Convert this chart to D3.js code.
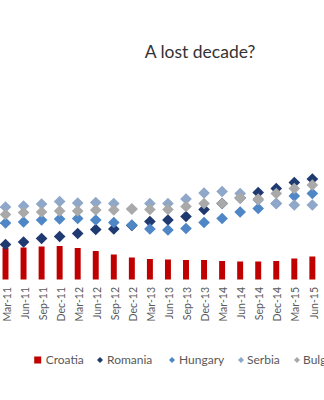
<!DOCTYPE html>
<html>
<head>
<meta charset="utf-8">
<script src="https://cdn.jsdelivr.net/npm/d3@7"></script>
<style>
  html, body { margin: 0; padding: 0; background: #fff; }
  svg { display: block; font-family: Lato, "Open Sans", sans-serif; }
</style>
</head>
<body>
<svg id="chart" width="324" height="400"></svg>
<script>
// Quarterly real GDP index by country
const quarters = ["Mar-11","Jun-11","Sep-11","Dec-11","Mar-12","Jun-12","Sep-12","Dec-12",
                  "Mar-13","Jun-13","Sep-13","Dec-13","Mar-14","Jun-14","Sep-14","Dec-14",
                  "Mar-15","Jun-15","Sep-15"];
// Quarters that carry a printed label
const labelledQuarters = quarters.slice(0, 18);
const croatia  = [91.3, 91.4, 91.6, 91.7, 91.3, 90.7, 90.0, 89.4, 89.1, 89.0, 88.9, 88.9, 88.7, 88.6, 88.6, 88.7, 89.2, 89.6, 89.8];
const romania  = [92.0, 92.5, 93.2, 93.6, 94.2, 95.0, 95.1, 95.8, 96.6, 96.9, 97.6, 99.0, 100.2, 101.3, 102.4, 103.2, 104.4, 105.1, 105.7];
const hungary  = [96.3, 96.5, 96.9, 97.1, 97.2, 96.9, 96.4, 95.9, 95.1, 94.9, 95.2, 96.4, 97.2, 98.5, 99.2, 100.2, 101.7, 102.2, 102.5];
const serbia   = [99.5, 99.7, 100.1, 100.6, 100.3, 100.4, 100.2, 99.1, 100.2, 100.2, 101.1, 102.3, 102.6, 102.2, 100.9, 100.2, 99.9, 99.9, 99.9];
const bulgaria = [98.0, 98.4, 98.5, 98.7, 98.7, 98.9, 98.9, 99.1, 99.0, 99.0, 99.6, 100.2, 100.2, 101.3, 101.1, 102.2, 103.2, 103.9, 103.5];

const colors = {
  Croatia: "#C00000",
  Romania: "#1F3A70",
  Hungary: "#4F86C6",
  Serbia: "#8FA7C8",
  Bulgaria: "#A9A9A9"
};

const svg = d3.select("#chart");
svg.append("rect").attr("width", 324).attr("height", 400).attr("fill", "#fff");

// Category axis: one band per quarter
const step = 18.05;
const x0 = 5.5 - step / 2;
const x = d3.scaleBand()
  .domain(quarters)
  .range([x0, x0 + step * quarters.length])
  .paddingInner(0.67)
  .paddingOuter(0.335);
const xc = q => x(q) + x.bandwidth() / 2;

// Value axis
const y = d3.scaleLinear().domain([85, 105]).range([279.5, 179.5]);

// Title
svg.append("text")
  .attr("x", 200).attr("y", 58.3)
  .attr("text-anchor", "middle")
  .attr("font-size", 17.5)
  .attr("fill", "#333")
  .text("A lost decade?");

// Croatia bars
svg.append("g").selectAll("rect")
  .data(quarters.map((q, i) => ({ q, v: croatia[i] })))
  .join("rect")
  .attr("x", d => x(d.q))
  .attr("width", x.bandwidth())
  .attr("y", d => y(d.v))
  .attr("height", d => y.range()[0] - y(d.v))
  .attr("fill", colors.Croatia);

// Diamond markers for the other countries
const diamond = d3.symbol().type(d3.symbolSquare).size(68);
const markerSeries = [
  { name: "Romania", values: romania },
  { name: "Hungary", values: hungary },
  { name: "Serbia", values: serbia },
  { name: "Bulgaria", values: bulgaria }
];
markerSeries.forEach(s => {
  svg.append("g").selectAll("path")
    .data(quarters.map((q, i) => ({ q, v: s.values[i] })))
    .join("path")
    .attr("d", diamond)
    .attr("transform", d => `translate(${xc(d.q)},${y(d.v)}) rotate(45)`)
    .attr("fill", colors[s.name]);
});

// Rotated quarter labels
const axis = d3.axisBottom(x).tickValues(labelledQuarters).tickSize(0).tickPadding(0);
const gAxis = svg.append("g").attr("transform", "translate(1.5,287)").call(axis);
gAxis.select(".domain").remove();
gAxis.selectAll("text")
  .attr("font-family", "Lato, 'Open Sans', sans-serif")
  .attr("font-size", 10.5)
  .attr("fill", "#595959")
  .attr("text-anchor", "end")
  .attr("x", 0).attr("y", 0)
  .attr("dy", "0.35em")
  .attr("transform", "rotate(-90)");

// Legend
const legendItems = [
  { name: "Croatia", mx: 37.7, tx: 45.7 },
  { name: "Romania", mx: 100, tx: 107 },
  { name: "Hungary", mx: 172, tx: 179 },
  { name: "Serbia", mx: 241, tx: 247 },
  { name: "Bulgaria", mx: 297, tx: 303 }
];
const legend = svg.append("g");
legendItems.forEach(item => {
  if (item.name === "Croatia") {
    legend.append("rect")
      .attr("x", item.mx - 3.5).attr("y", 356.5)
      .attr("width", 7).attr("height", 7)
      .attr("fill", colors.Croatia);
  } else {
    legend.append("path")
      .attr("d", d3.symbol().type(d3.symbolSquare).size(18)())
      .attr("transform", `translate(${item.mx},360) rotate(45)`)
      .attr("fill", colors[item.name]);
  }
  legend.append("text")
    .attr("x", item.tx).attr("y", 364)
    .attr("font-size", 12)
    .attr("fill", "#595959")
    .text(item.name);
});
</script>
</body>
</html>
